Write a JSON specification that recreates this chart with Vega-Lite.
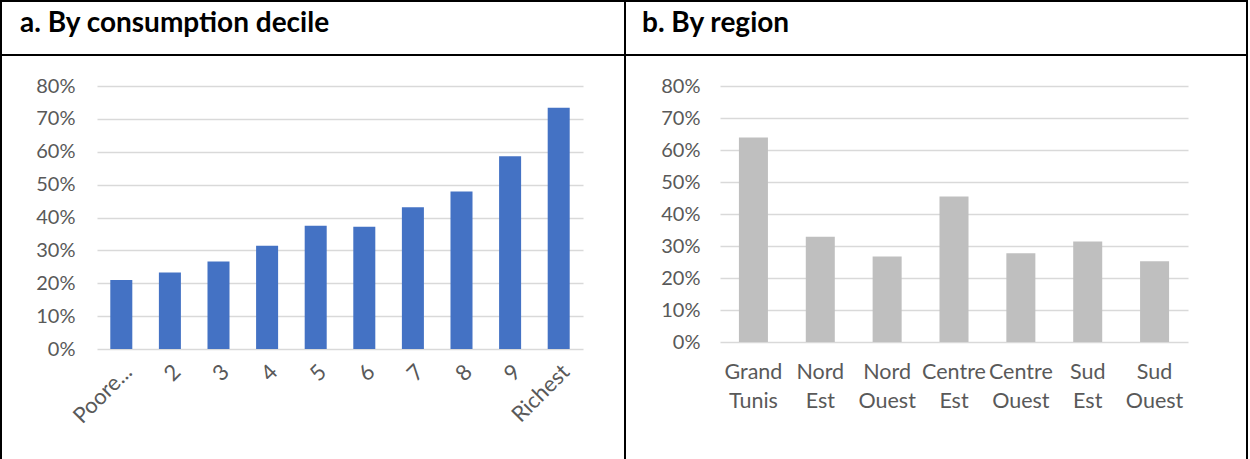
{
  "$schema": "https://vega.github.io/schema/vega-lite/v6.json",
  "background": "black",
  "padding": {"left": 2, "top": 2, "right": 2, "bottom": 0},
  "spacing": 2,
  "config": {
    "view": {"fill": "white", "stroke": null},
    "font": "Lato",
    "axis": {
      "labelFont": "Lato",
      "labelFontSize": 20,
      "labelColor": "#595959",
      "gridColor": "#D9D9D9",
      "gridWidth": 1.5,
      "domain": false,
      "ticks": false,
      "title": null,
      "labelOverlap": false,
      "labelBound": false,
      "labelFlush": false
    }
  },
  "datasets": {
    "decile": [
      {"decile": "Poorest", "share": 0.21},
      {"decile": "2", "share": 0.233},
      {"decile": "3", "share": 0.266},
      {"decile": "4", "share": 0.314},
      {"decile": "5", "share": 0.375},
      {"decile": "6", "share": 0.372},
      {"decile": "7", "share": 0.431},
      {"decile": "8", "share": 0.479},
      {"decile": "9", "share": 0.586},
      {"decile": "Richest", "share": 0.734}
    ],
    "region": [
      {"region": "Grand Tunis", "share": 0.639},
      {"region": "Nord Est", "share": 0.329},
      {"region": "Nord Ouest", "share": 0.267},
      {"region": "Centre Est", "share": 0.455},
      {"region": "Centre Ouest", "share": 0.277},
      {"region": "Sud Est", "share": 0.314},
      {"region": "Sud Ouest", "share": 0.252}
    ]
  },
  "vconcat": [
    {
      "spacing": 2,
      "hconcat": [
        {
          "width": 622,
          "height": 52,
          "data": {"values": [{"panel": "a. By consumption decile"}]},
          "mark": {"type": "text", "align": "left", "baseline": "alphabetic", "fontSize": 28, "fontWeight": "bold", "color": "black", "font": "Lato"},
          "encoding": {
            "text": {"field": "panel"},
            "x": {"datum": 0, "type": "quantitative", "scale": {"domain": [0, 1], "range": [18, 622]}, "axis": null},
            "y": {"datum": 0, "type": "quantitative", "scale": {"domain": [0, 1], "range": [30, 0]}, "axis": null}
          }
        },
        {
          "width": 620,
          "height": 52,
          "data": {"values": [{"panel": "b. By region"}]},
          "mark": {"type": "text", "align": "left", "baseline": "alphabetic", "fontSize": 28, "fontWeight": "bold", "color": "black", "font": "Lato"},
          "encoding": {
            "text": {"field": "panel"},
            "x": {"datum": 0, "type": "quantitative", "scale": {"domain": [0, 1], "range": [16, 620]}, "axis": null},
            "y": {"datum": 0, "type": "quantitative", "scale": {"domain": [0, 1], "range": [30, 0]}, "axis": null}
          }
        }
      ]
    },
    {
      "spacing": 2,
      "hconcat": [
        {
          "width": 622,
          "height": 403,
          "data": {"name": "decile"},
          "mark": {"type": "bar", "color": "#4472C4"},
          "encoding": {
            "x": {
              "field": "decile", "type": "nominal", "sort": null,
              "scale": {"range": [95, 581], "paddingInner": 0.547, "paddingOuter": 0.2735},
              "axis": {"orient": "bottom", "offset": -110, "labelAngle": -45, "grid": false, "labelPadding": 12, "labelFontSize": 22, "labelExpr": "datum.label == 'Poorest' ? 'Poore...' : datum.label"}
            },
            "y": {
              "field": "share", "type": "quantitative",
              "scale": {"domain": [0, 0.8], "range": [293, 30], "nice": false, "zero": true},
              "axis": {"format": ".0%", "values": [0, 0.1, 0.2, 0.3, 0.4, 0.5, 0.6, 0.7, 0.8], "offset": -79, "grid": true, "labelPadding": 6}
            }
          }
        },
        {
          "width": 620,
          "height": 403,
          "data": {"name": "region"},
          "mark": {"type": "bar", "color": "#BFBFBF"},
          "encoding": {
            "x": {
              "field": "region", "type": "nominal", "sort": null,
              "scale": {"range": [94, 562], "paddingInner": 0.566, "paddingOuter": 0.283},
              "axis": {"orient": "bottom", "offset": -117, "labelAngle": 0, "grid": false, "labelPadding": 19, "labelFontSize": 21.5, "labelLineHeight": 29, "labelBaseline": "top", "labelExpr": "split(datum.label, ' ')"}
            },
            "y": {
              "field": "share", "type": "quantitative",
              "scale": {"domain": [0, 0.8], "range": [286, 30], "nice": false, "zero": true},
              "axis": {"format": ".0%", "values": [0, 0.1, 0.2, 0.3, 0.4, 0.5, 0.6, 0.7, 0.8], "offset": -80, "grid": true, "labelPadding": 6}
            }
          }
        }
      ]
    }
  ]
}
